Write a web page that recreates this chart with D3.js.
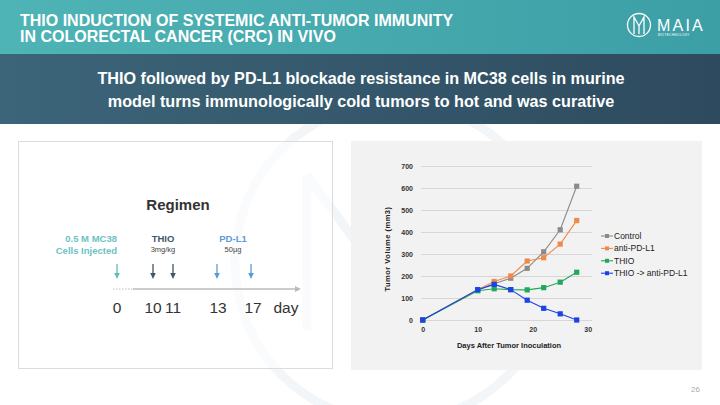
<!DOCTYPE html>
<html><head><meta charset="utf-8">
<script src="https://cdn.jsdelivr.net/npm/d3@7"></script>
<style>
html,body{margin:0;padding:0;background:#fff;}
svg{display:block;font-family:"Liberation Sans",Arial,sans-serif;}
</style></head>
<body><svg id="c" width="720" height="405"></svg>
<script>
// ---- data ----
const days = [0, 10, 13, 16, 19, 22, 25, 28];
const seriesNames = ["Control", "anti-PD-L1", "THIO", "THIO -> anti-PD-L1"];
const control   = [0, 137, 165, 190, 235, 310, 410, 608];
const antiPDL1  = [0, 137, 175, 200, 268, 283, 345, 452];
const thio      = [0, 133, 142, 138, 137, 147, 172, 217];
const thioPDL1  = [0, 138, 162, 138, 90, 53, 28, 0];
const yTicks = [0, 100, 200, 300, 400, 500, 600, 700];
const xTicks = [0, 10, 20, 30];
const regimenDays = [0, 10, 11, 13, 17];
const regimenLabels = ["0", "10", "11", "13", "17"];

const svg = d3.select("#c");
const defs = svg.append("defs");
const g1 = defs.append("linearGradient").attr("id","teal").attr("x1","0").attr("x2","1");
g1.append("stop").attr("offset","0").attr("stop-color","#4fb4b6");
g1.append("stop").attr("offset","1").attr("stop-color","#3d9fa6");
const g2 = defs.append("linearGradient").attr("id","dark").attr("x1","0").attr("x2","1");
g2.append("stop").attr("offset","0").attr("stop-color","#3c6579");
g2.append("stop").attr("offset","1").attr("stop-color","#2e4a5e");

// watermark
const wm = svg.append("g").attr("fill","none").attr("stroke","#f3f6f9").attr("stroke-width",9);
wm.append("circle").attr("cx",395).attr("cy",262).attr("r",160);
wm.append("path").attr("d","M307,175 L307,330");
wm.append("path").attr("d","M307,175 L420,330");

// header
svg.append("rect").attr("x",0).attr("y",0).attr("width",720).attr("height",54).attr("fill","url(#teal)");
svg.append("rect").attr("x",0).attr("y",54).attr("width",720).attr("height",70).attr("fill","url(#dark)");
const title = svg.append("text").attr("fill","#fff").attr("font-weight","bold")
  .attr("font-family","'Liberation Sans',Arial,sans-serif").attr("font-size",16);
title.append("tspan").attr("x",20).attr("y",26).text("THIO INDUCTION OF SYSTEMIC ANTI-TUMOR IMMUNITY");
title.append("tspan").attr("x",20).attr("y",42).text("IN COLORECTAL CANCER (CRC) IN VIVO");
const sub = svg.append("text").attr("fill","#fff").attr("font-weight","bold").attr("text-anchor","middle")
  .attr("font-family","'Liberation Sans',Arial,sans-serif").attr("font-size",16.2);
sub.append("tspan").attr("x",361).attr("y",84).text("THIO followed by PD-L1 blockade resistance in MC38 cells in murine");
sub.append("tspan").attr("x",361).attr("y",107).text("model turns immunologically cold tumors to hot and was curative");

// logo
const logo = svg.append("g");
logo.append("circle").attr("cx",639).attr("cy",25).attr("r",11.5).attr("fill","none").attr("stroke","#fff").attr("stroke-width",1.3);
logo.append("path").attr("d","M634,34 L634,17 L639,26 L644,17 L644,34 M639,26 L639,34").attr("fill","none").attr("stroke","#fff").attr("stroke-width",1.3);
logo.append("text").attr("x",657).attr("y",31).attr("fill","#fff").attr("font-size",16).attr("letter-spacing",2.2).text("MAIA");
logo.append("text").attr("x",658).attr("y",36).attr("fill","#fff").attr("font-size",3.2).attr("letter-spacing",0.3).text("BIOTECHNOLOGY");

// left panel
svg.append("rect").attr("x",18.5).attr("y",141.5).attr("width",314).attr("height",227).attr("fill","rgba(255,255,255,0.6)").attr("stroke","#dcdcdc");
svg.append("text").attr("x",178).attr("y",210).attr("text-anchor","middle").attr("font-weight","bold").attr("font-size",15).attr("fill","#333").text("Regimen");

const tx = d3.scaleLinear().domain([0,10,11,13,17,21]).range([117,153,173,218,253,286]);
const lineY = 289;
svg.append("line").attr("x1",113).attr("x2",133).attr("y1",lineY).attr("y2",lineY).attr("stroke","#bbb").attr("stroke-dasharray","1.5,1.5");
svg.append("line").attr("x1",133).attr("x2",296).attr("y1",lineY).attr("y2",lineY).attr("stroke","#bbb").attr("stroke-width",1.5);
svg.append("path").attr("d",`M295,${lineY-3} L301,${lineY} L295,${lineY+3} Z`).attr("fill","#bbb");

const arrowColors = ["#5bbdbd","#3f5768","#3f5768","#5b9bd5","#5b9bd5"];
const arrowX = [117,153,173,217,251];
regimenDays.forEach((d,i)=>{
  const x = arrowX[i];
  svg.append("line").attr("x1",x).attr("x2",x).attr("y1",264).attr("y2",276).attr("stroke",arrowColors[i]).attr("stroke-width",1.3);
  svg.append("path").attr("d",`M${x-2.8},${273} L${x},${279} L${x+2.8},${273} Z`).attr("fill",arrowColors[i]);
  svg.append("text").attr("x",tx(d)).attr("y",313).attr("text-anchor","middle").attr("font-size",15.5).attr("fill","#333").text(regimenLabels[i]);
});
svg.append("text").attr("x",tx(21)).attr("y",313).attr("text-anchor","middle").attr("font-size",15.5).attr("fill","#333").text("day");

svg.append("text").attr("x",117).attr("y",242).attr("text-anchor","end").attr("font-weight","bold").attr("font-size",9.5).attr("fill","#6cc3c3").text("0.5 M MC38");
svg.append("text").attr("x",117).attr("y",254).attr("text-anchor","end").attr("font-weight","bold").attr("font-size",9.5).attr("fill","#6cc3c3").text("Cells Injected");
svg.append("text").attr("x",163).attr("y",242).attr("text-anchor","middle").attr("font-weight","bold").attr("font-size",9.5).attr("fill","#3f5768").text("THIO");
svg.append("text").attr("x",163).attr("y",252).attr("text-anchor","middle").attr("font-size",7.5).attr("fill","#444").text("3mg/kg");
svg.append("text").attr("x",233).attr("y",242).attr("text-anchor","middle").attr("font-weight","bold").attr("font-size",9.5).attr("fill","#5b9bd5").text("PD-L1");
svg.append("text").attr("x",233).attr("y",252).attr("text-anchor","middle").attr("font-size",7.5).attr("fill","#444").text("50µg");

// chart panel
svg.append("rect").attr("x",351).attr("y",141).attr("width",351).attr("height",229).attr("fill","#f2f2f2");
const x = d3.scaleLinear().domain([0,30]).range([422.7,587.7]);
const y = d3.scaleLinear().domain([0,700]).range([320,166]);
const cg = svg.append("g").attr("font-family","'Liberation Sans',Arial,sans-serif");
const yAx = cg.append("g").attr("transform","translate(421,0)")
  .call(d3.axisLeft(y).tickValues(yTicks).tickSize(-171).tickPadding(8));
yAx.select(".domain").remove();
yAx.selectAll(".tick line").attr("stroke","#d6d6d6");
yAx.selectAll(".tick text").attr("font-size",7).attr("font-weight","bold").attr("fill","#333");
const xAx = cg.append("g").attr("transform","translate(0,320)")
  .call(d3.axisBottom(x).tickValues(xTicks).tickSize(0).tickPadding(7));
xAx.select(".domain").remove();
xAx.selectAll(".tick text").attr("font-size",7).attr("font-weight","bold").attr("fill","#333");

cg.append("text").attr("transform","translate(390,249) rotate(-90)").attr("text-anchor","middle")
  .attr("font-size",7.5).attr("font-weight","bold").attr("fill","#222").attr("letter-spacing",0.5).text("Tumor Volume (mm3)");
cg.append("text").attr("x",509).attr("y",348).attr("text-anchor","middle")
  .attr("font-size",7.5).attr("font-weight","bold").attr("fill","#222").text("Days After Tumor Inoculation");

const all = [control, antiPDL1, thio, thioPDL1];
const colors = ["#8a8a8a","#f08a4b","#22a85a","#1d43e6"];
const line = d3.line().x((d,i)=>x(days[i])).y(d=>y(d));
all.forEach((s,k)=>{
  cg.append("path").datum(s).attr("d",line).attr("fill","none").attr("stroke",colors[k]).attr("stroke-width",1.1);
  cg.selectAll(null).data(s).enter().append("rect")
    .attr("x",(d,i)=>x(days[i])-2.6).attr("y",d=>y(d)-2.6).attr("width",5.2).attr("height",5.2).attr("fill",colors[k]);
});

// legend
const lg = cg.append("g");
seriesNames.forEach((n,k)=>{
  const ly = 236 + k*12.4;
  lg.append("line").attr("x1",601).attr("x2",613).attr("y1",ly).attr("y2",ly).attr("stroke",colors[k]).attr("stroke-width",1.1);
  lg.append("rect").attr("x",605).attr("y",ly-2).attr("width",4).attr("height",4).attr("fill",colors[k]);
  lg.append("text").attr("x",614).attr("y",ly+3).attr("font-size",8.5).attr("fill","#222").text(n);
});

svg.append("text").attr("x",700).attr("y",392).attr("text-anchor","end").attr("font-size",8).attr("fill","#aaa").text("26");
</script></body></html>
